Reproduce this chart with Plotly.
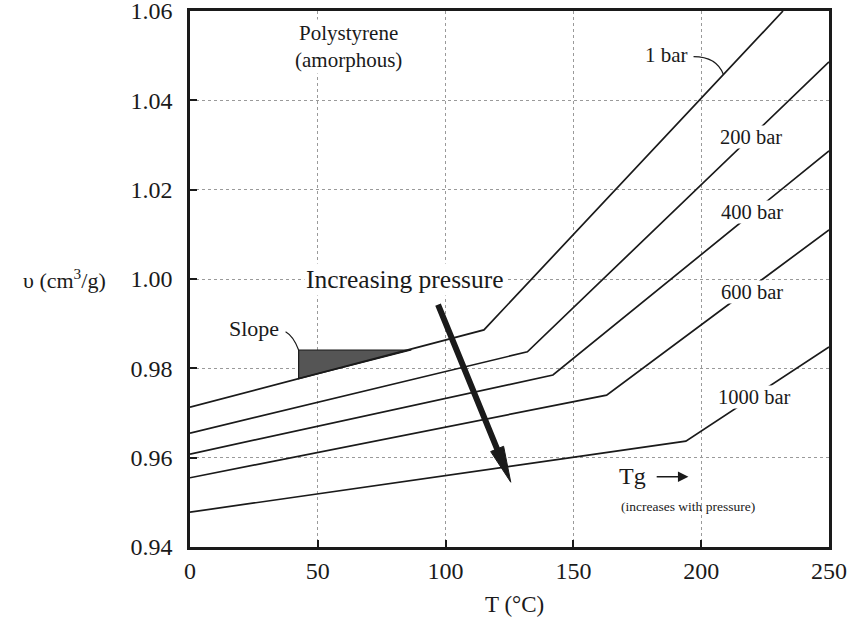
import math
import plotly.graph_objects as go

# ---- data ----
pressure_labels = ["1 bar", "200 bar", "400 bar", "600 bar", "1000 bar"]
T_1bar = [0, 115, 232]
v_1bar = [0.9713, 0.9886, 1.06]
T_200 = [0, 132, 250]
v_200 = [0.9655, 0.9837, 1.0486]
T_400 = [0, 142, 250]
v_400 = [0.9608, 0.9785, 1.0287]
T_600 = [0, 163, 250]
v_600 = [0.9555, 0.9740, 1.0110]
T_1000 = [0, 194, 250]
v_1000 = [0.9478, 0.9637, 0.9848]

x_ticks = [0, 50, 100, 150, 200, 250]
y_ticks = [0.94, 0.96, 0.98, 1.00, 1.02, 1.04, 1.06]
y_tick_text = ["0.94", "0.96", "0.98", "1.00", "1.02", "1.04", "1.06"]

slope_T = [42.5, 86.6, 42.5, 42.5]
slope_v = [0.9841, 0.9841, 0.9777, 0.9841]

label_T = [None, 219.5, 220, 220, 220.5]
label_v = [None, 1.0318, 1.0150, 0.9970, 0.9736]

# "Increasing pressure" arrow: tail and tip (data units)
arrow_tail = (96.8, 0.9946)
arrow_tip = (125.5, 0.9545)

FONT = "Liberation Serif"
INK = "#1a1a1a"

W, H = 847, 619
ML, MR, MT, MB = 190, 18, 11, 72
X_RANGE = [0, 250]
Y_RANGE = [0.94, 1.06]
kx = (W - ML - MR) / (X_RANGE[1] - X_RANGE[0])   # px per degC
ky = (H - MT - MB) / (Y_RANGE[1] - Y_RANGE[0])   # px per unit volume

fig = go.Figure()

# slope triangle
fig.add_trace(go.Scatter(x=slope_T, y=slope_v, mode="lines", fill="toself",
                         fillcolor="#555555", line=dict(color=INK, width=1.2),
                         hoverinfo="skip", showlegend=False))

for T, v in [(T_1bar, v_1bar), (T_200, v_200), (T_400, v_400), (T_600, v_600), (T_1000, v_1000)]:
    fig.add_trace(go.Scatter(x=T, y=v, mode="lines", line=dict(color=INK, width=1.7),
                             showlegend=False, hoverinfo="skip"))

ann = []
# pressure labels (white background breaks the line)
for lab, xt, yv in zip(pressure_labels[1:], label_T[1:], label_v[1:]):
    ann.append(dict(x=xt, y=yv, xref="x", yref="y", text=lab, showarrow=False,
                    font=dict(family=FONT, size=20.5, color=INK), bgcolor="white", borderpad=0))
# 1 bar label with curved leader
ann.append(dict(x=186.5, y=1.0502, xref="x", yref="y", text="1 bar", showarrow=False,
                font=dict(family=FONT, size=21, color=INK)))
fig.add_shape(type="path", xref="x", yref="y",
              path="M 197,1.0498 Q 206,1.0498 208.7,1.0458",
              line=dict(color=INK, width=1.3))

ann.append(dict(x=62, y=1.0521, xref="x", yref="y", text="Polystyrene<br>(amorphous)",
                showarrow=False, font=dict(family=FONT, size=21, color=INK),
                bgcolor="white", align="center"))
ann.append(dict(x=84, y=1.0, xref="x", yref="y", text="Increasing pressure", showarrow=False,
                font=dict(family=FONT, size=25.5, color=INK), bgcolor="white"))

# big arrow: shaft as annotation line, narrow elongated head as a filled path
dxp = (arrow_tip[0] - arrow_tail[0]) * kx
dyp = -(arrow_tip[1] - arrow_tail[1]) * ky  # pixels, downwards positive
L = math.hypot(dxp, dyp)
ux, uy = dxp / L, dyp / L
nx, ny = -uy, ux
head_len, head_half = 36, 7
bx, by = -ux * head_len, -uy * head_len  # base centre offset from tip, px


def px_to_data(ox, oy):
    return arrow_tip[0] + ox / kx, arrow_tip[1] - oy / ky


base_c = px_to_data(bx + ux * 2, by + uy * 2)
c1 = px_to_data(bx + nx * head_half, by + ny * head_half)
c2 = px_to_data(bx - nx * head_half, by - ny * head_half)
ann.append(dict(x=base_c[0], y=base_c[1], ax=arrow_tail[0], ay=arrow_tail[1], xref="x", yref="y",
                axref="x", ayref="y", text="", showarrow=True, arrowhead=0, arrowwidth=6,
                arrowcolor=INK))
fig.add_shape(type="path", xref="x", yref="y",
              path=f"M {arrow_tip[0]},{arrow_tip[1]} L {c1[0]},{c1[1]} L {c2[0]},{c2[1]} Z",
              fillcolor=INK, line=dict(color=INK, width=1))

# Slope label
ann.append(dict(x=25.2, y=0.9890, xref="x", yref="y", text="Slope", showarrow=False,
                font=dict(family=FONT, size=22, color=INK)))
fig.add_shape(type="path", xref="x", yref="y",
              path="M 37.4,0.9882 Q 40.5,0.9872 42.5,0.9841",
              line=dict(color=INK, width=1.2))
# Tg arrow
ann.append(dict(x=173, y=0.9558, xref="x", yref="y", text="Tg", showarrow=False,
                font=dict(family=FONT, size=24, color=INK)))
ann.append(dict(x=195, y=0.9557, ax=182, ay=0.9557, xref="x", yref="y", axref="x", ayref="y",
                text="", showarrow=True, arrowhead=2, arrowsize=1.4, arrowwidth=1.5, arrowcolor=INK))
ann.append(dict(x=194.8, y=0.9491, xref="x", yref="y", text="(increases with pressure)",
                showarrow=False, font=dict(family=FONT, size=13.5, color=INK)))
# axis titles
ann.append(dict(x=-0.197, y=1.0, xref="paper", yref="y", xanchor="center", text="υ (cm<sup>3</sup>/g)",
                showarrow=False, font=dict(family=FONT, size=22, color=INK)))
ann.append(dict(x=127, y=-0.108, xref="x", yref="paper", yanchor="middle", text="T (°C)",
                showarrow=False, font=dict(family=FONT, size=23, color=INK)))

fig.update_layout(
    width=W, height=H,
    margin=dict(l=ML, r=MR, t=MT, b=MB, autoexpand=False),
    plot_bgcolor="white", paper_bgcolor="white",
    annotations=ann,
    showlegend=False,
)
fig.update_xaxes(range=X_RANGE, tickvals=x_ticks, ticks="inside", ticklen=7, tickwidth=2,
                 tickcolor=INK, showline=True, linewidth=2.5, linecolor=INK, mirror=True,
                 showgrid=True, gridcolor="#9a9a9a", griddash="dot", gridwidth=1,
                 zeroline=False, tickfont=dict(family=FONT, size=24, color=INK),
                 ticklabelstandoff=0, automargin=False, ticklabeloverflow="allow")
fig.update_yaxes(range=Y_RANGE, tickvals=y_ticks, ticktext=y_tick_text, ticks="inside",
                 ticklen=7, tickwidth=2, tickcolor=INK, showline=True, linewidth=2.5,
                 linecolor=INK, mirror=True, showgrid=True, gridcolor="#9a9a9a",
                 griddash="dot", gridwidth=1, zeroline=False,
                 tickfont=dict(family=FONT, size=24, color=INK), ticklabelstandoff=10,
                 automargin=False, ticklabeloverflow="allow")

fig.write_html("out.html", config={"displayModeBar": False},
               post_script="document.body.style.margin='0px';")
